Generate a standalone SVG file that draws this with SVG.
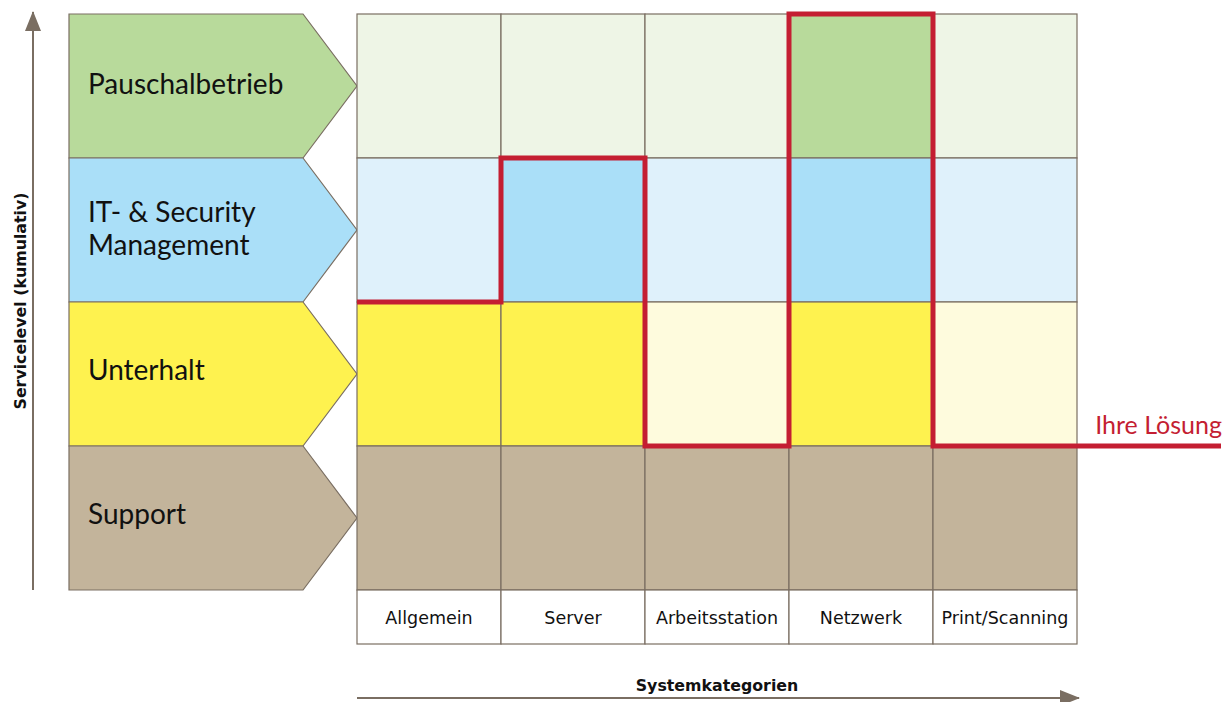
<svg xmlns="http://www.w3.org/2000/svg" width="1230" height="702" viewBox="0 0 1230 702">
<style>
.ln{stroke:#7a6e62;stroke-width:1.2}
.t{font-family:Lato,"Noto Sans",sans-serif;fill:#111}
.big{font-size:28px}
.cat{font-family:"DejaVu Sans",sans-serif;font-size:17.5px;fill:#111}
.ax{font-family:"DejaVu Sans",sans-serif;font-size:15.8px;font-weight:bold;fill:#111}
</style>
<defs>
<marker id="ah" viewBox="0 0 20 16" refX="19" refY="8" markerWidth="20" markerHeight="16" markerUnits="userSpaceOnUse" orient="auto">
<path d="M0,0 L20,8 L0,16 Z" fill="#7a6e62"/>
</marker>
</defs>
<rect width="1230" height="702" fill="#fff"/>
<g id="rows">
<g id="pauschal">
<path class="ln" d="M69,14 H303 L357,86 L303,158 H69 Z" fill="#b8da9b"/>
<text class="t big" x="88" y="94">Pauschalbetrieb</text>
</g>
<g id="itsec">
<path class="ln" d="M69,158 H303 L357,230 L303,302 H69 Z" fill="#aadff8"/>
<text class="t big" x="88" y="222">IT- &amp; Security</text>
<text class="t big" x="88" y="255">Management</text>
</g>
<g id="unterhalt">
<path class="ln" d="M69,302 H303 L357,374 L303,446 H69 Z" fill="#fef24f"/>
<text class="t big" x="88" y="380">Unterhalt</text>
</g>
<g id="support">
<path class="ln" d="M69,446 H303 L357,518 L303,590 H69 Z" fill="#c3b49b"/>
<text class="t big" x="88" y="524">Support</text>
</g>
</g>
<g id="grid" class="ln">
<rect x="357" y="14" width="144" height="144" fill="#eef5e6"/>
<rect x="501" y="14" width="144" height="144" fill="#eef5e6"/>
<rect x="645" y="14" width="144" height="144" fill="#eef5e6"/>
<rect x="789" y="14" width="144" height="144" fill="#b8da9b"/>
<rect x="933" y="14" width="144" height="144" fill="#eef5e6"/>
<rect x="357" y="158" width="144" height="144" fill="#dff1fb"/>
<rect x="501" y="158" width="144" height="144" fill="#aadff8"/>
<rect x="645" y="158" width="144" height="144" fill="#dff1fb"/>
<rect x="789" y="158" width="144" height="144" fill="#aadff8"/>
<rect x="933" y="158" width="144" height="144" fill="#dff1fb"/>
<rect x="357" y="302" width="144" height="144" fill="#fef24f"/>
<rect x="501" y="302" width="144" height="144" fill="#fef24f"/>
<rect x="645" y="302" width="144" height="144" fill="#fefbdd"/>
<rect x="789" y="302" width="144" height="144" fill="#fef24f"/>
<rect x="933" y="302" width="144" height="144" fill="#fefbdd"/>
<rect x="357" y="446" width="144" height="144" fill="#c3b49b"/>
<rect x="501" y="446" width="144" height="144" fill="#c3b49b"/>
<rect x="645" y="446" width="144" height="144" fill="#c3b49b"/>
<rect x="789" y="446" width="144" height="144" fill="#c3b49b"/>
<rect x="933" y="446" width="144" height="144" fill="#c3b49b"/>
<rect x="357" y="590" width="144" height="54" fill="#fff"/>
<rect x="501" y="590" width="144" height="54" fill="#fff"/>
<rect x="645" y="590" width="144" height="54" fill="#fff"/>
<rect x="789" y="590" width="144" height="54" fill="#fff"/>
<rect x="933" y="590" width="144" height="54" fill="#fff"/>
</g>
<g id="categories" class="cat" text-anchor="middle">
<text x="429" y="624">Allgemein</text>
<text x="573" y="624">Server</text>
<text x="717" y="624">Arbeitsstation</text>
<text x="861" y="624">Netzwerk</text>
<text x="1005" y="624">Print/Scanning</text>
</g>
<g id="connectors">
<path d="M357,302 H501 V158 H645 V446 H789 V14 H933 V446 H1221" fill="none" stroke="#c41e32" stroke-width="5"/>
<line x1="33" y1="590" x2="33" y2="12" stroke="#7a6e62" stroke-width="2" marker-end="url(#ah)"/>
<line x1="357" y1="698" x2="1079" y2="698" stroke="#7a6e62" stroke-width="2" marker-end="url(#ah)"/>
</g>
<text x="1222" y="434" text-anchor="end" font-family="Lato,'Noto Sans',sans-serif" font-size="25" fill="#c41e32">Ihre Lösung</text>
<text class="ax" x="717" y="691" text-anchor="middle">Systemkategorien</text>
<text class="ax" transform="translate(26,301) rotate(-90)" text-anchor="middle">Servicelevel (kumulativ)</text>
</svg>
